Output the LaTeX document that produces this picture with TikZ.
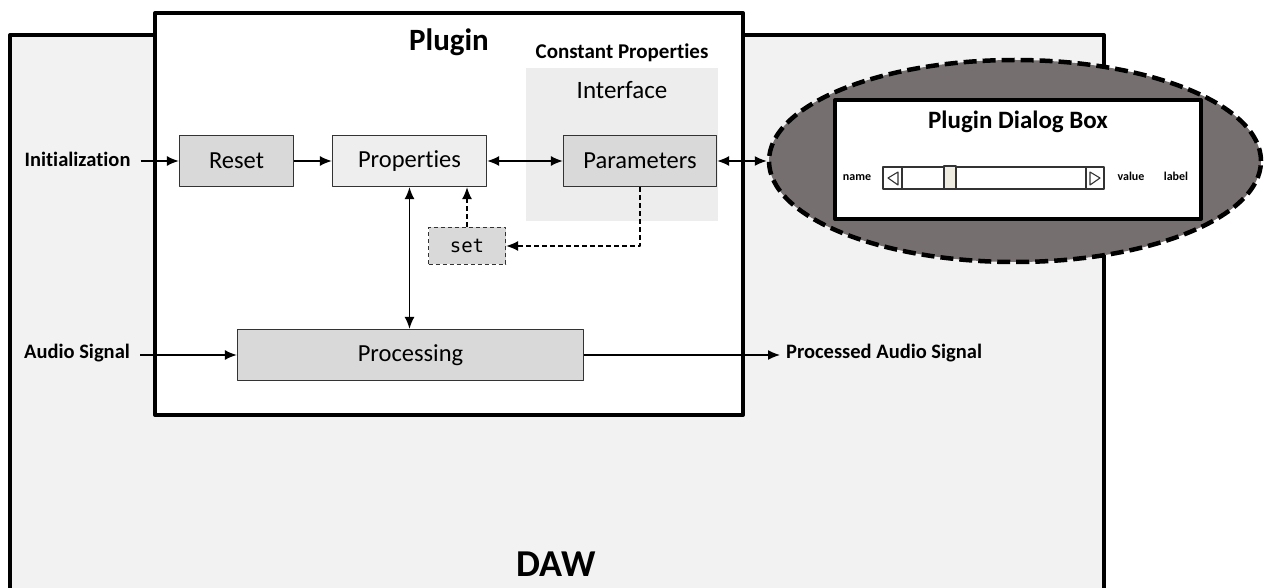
\documentclass[tikz,border=0pt]{standalone}
\usepackage{fontspec}
\setmainfont{Carlito}[Ligatures=CommonOff]
\setmonofont{DejaVu Sans Mono}
\usetikzlibrary{arrows.meta,positioning,calc,shapes.geometric}
\definecolor{dawgray}{RGB}{242,242,242}
\definecolor{boxgray}{RGB}{217,217,217}
\definecolor{propgray}{RGB}{238,238,238}
\definecolor{ifacegray}{RGB}{237,237,237}
\definecolor{zonegray}{RGB}{117,112,111}
\definecolor{thumbcream}{RGB}{238,236,225}
\definecolor{framegray}{RGB}{51,51,51}
\newcommand \mydrawslider[4]
{
\draw[framegray,line width=1.1pt,fill=white] (#1,#3) rectangle (#2,#4);
\draw[framegray,line width=1.1pt] (#1+19,#3)--(#1+19,#4);
\draw[framegray,line width=1.1pt] (#2-18,#3)--(#2-18,#4);
\draw[framegray,line width=1.1pt] (#1+15,#3+5)--(#1+5,{(#3+#4)/2})--(#1+15,#4-4)--cycle;
\draw[framegray,line width=1.1pt] (#2-14,#3+5)--(#2-4,{(#3+#4)/2})--(#2-14,#4-4)--cycle;
}

\begin{document}
\begin{tikzpicture}[x=1pt,y=-1pt,line join=round,
  heavy/.style={line width=4pt},
  box/.style={draw=framegray,line width=1.3pt,fill=boxgray,inner sep=0pt,
    minimum height=51pt,font=\fontsize{24.5}{29}\selectfont},
  lbl/.style={inner sep=0pt,font=\bfseries\fontsize{20.5}{24}\selectfont},
  tiny/.style={inner sep=0pt,font=\bfseries\fontsize{12}{14}\selectfont},
  flow/.style={line width=1.4pt,-{Latex[length=12pt,width=10pt]}},
  biflow/.style={line width=1.4pt,{Latex[length=12pt,width=10pt]}-{Latex[length=12pt,width=10pt]}},
  dashflow/.style={flow,dash pattern=on 5pt off 3pt}]
\useasboundingbox (0,0) rectangle (1264,588);
\fill[white] (0,0) rectangle (1264,588);
% DAW frame, its lower edge lies below the page
\draw[heavy,fill=dawgray] (10,35) rectangle (1104,640);
\node[anchor=base,inner sep=0pt,font=\bfseries\fontsize{38}{44}\selectfont] (daw) at (556,576) {DAW};
% Plugin frame
\draw[heavy,fill=white] (155,13) rectangle (743,415);
\node[anchor=base,inner sep=0pt,font=\bfseries\fontsize{31}{36}\selectfont] (plugtitle) at (449,51) {Plugin};
\node[anchor=base,inner sep=0pt,font=\bfseries\fontsize{21}{25}\selectfont] (consttitle) at (622,59) {Constant Properties};
\fill[ifacegray] (526,68) rectangle (718,221);
\node[anchor=base,inner sep=0pt,font=\fontsize{25}{30}\selectfont] (iface) at (622,99) {Interface};
% blocks
\node[box,minimum width=114pt] (reset) at (236.5,161) {Reset};
\node[box,fill=propgray,minimum width=154pt] (prop) at (409.5,161) {Properties};
\node[box,minimum width=153pt] (param) at (640,161) {Parameters};
\node[box,dash pattern=on 4pt off 3pt,minimum width=77pt,minimum height=37pt,
  font=\ttfamily\fontsize{19}{22}\selectfont] (set) at (467,246) {set};
\node[box,minimum width=346pt] (proc) at (410.5,355) {Processing};
% dialog box zone
\node[draw,line width=4.5pt,dash pattern=on 13pt off 6pt,ellipse,fill=zonegray,inner sep=0pt,
  minimum width=492pt,minimum height=202pt] (zone) at (1015,161) {};
\node[draw,heavy,fill=white,inner sep=0pt,minimum width=366pt,minimum height=119pt] (dlg) at (1018,159.5) {};
\node[anchor=base,inner sep=0pt,font=\bfseries\fontsize{25}{30}\selectfont] (dlgtitle) at (1018,129) {Plugin Dialog Box};
\mydrawslider{883}{1104}{167}{189}
\draw[framegray,line width=1.1pt,fill=thumbcream] (944,166) rectangle (956,189);
\node[tiny,anchor=base] (slname)  at (857,181)  {name};
\node[tiny,anchor=base] (slvalue) at (1131,181) {value};
\node[tiny,anchor=base] (sllabel) at (1176,181) {label};
% outer labels
\node[lbl,anchor=base] (init)  at (77.5,167) {Initialization};
\node[lbl,anchor=base] (audio) at (77,358)   {Audio Signal};
\node[lbl,anchor=base west] (out) at (786,358) {Processed Audio Signal};
% connectors
\draw[flow] ([xshift=10pt]init.east |- reset.west) -- (reset.west);
\draw[flow] (reset) -- (prop);
\draw[biflow] (prop) -- (param);
\draw[biflow] (param) -- (zone);
\draw[biflow] (prop.south) -- (prop.south |- proc.north);
\draw[dashflow] (set.north) -- (set.north |- prop.south);
\draw[dashflow] (param.south) |- (set.east);
\draw[flow] ([xshift=10pt]audio.east |- proc.west) -- (proc.west);
\draw[flow] (proc.east) -- ([xshift=-6pt]out.west |- proc.east);
\end{tikzpicture}
\end{document}
